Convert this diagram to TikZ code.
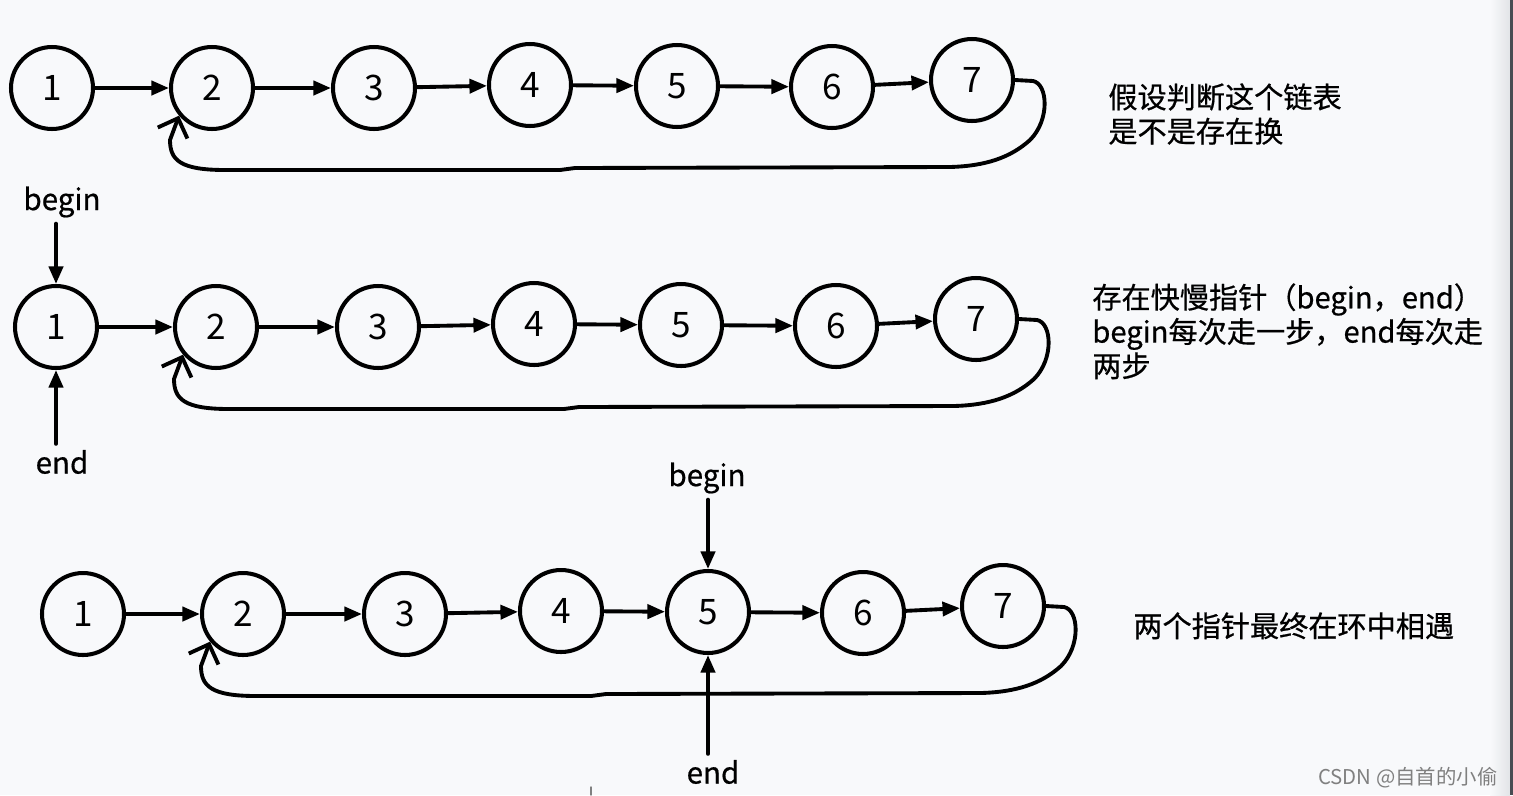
\documentclass[tikz,border=0pt]{standalone}
\usepackage{fontspec}
\setmainfont{Noto Sans CJK SC}
\newfontfamily\notefont{Noto Sans CJK SC}[FakeBold=0.6]
\usetikzlibrary{arrows.meta}
\definecolor{bgcol}{RGB}{248,249,251}
\definecolor{edgecol}{RGB}{226,228,231}
\definecolor{rimcol}{RGB}{72,76,82}
\begin{document}
\begin{tikzpicture}[line join=round,line cap=round,x=0.02cm,y=-0.02cm,
	>={Triangle[length=10pt,width=8pt]},
	elem/.style={circle,draw,line width=2.3pt,minimum size=1.64cm,inner sep=0pt,font=\fontsize{20}{20}\selectfont},
	link/.style={->,line width=2.2pt},
	back/.style={-{Straight Barb[length=9pt,width=18pt]},line width=2.2pt},
	lbl/.style={font=\notefont\fontsize{16.8}{19}\selectfont},
	note/.style={anchor=north west,align=left,inner sep=0pt,font=\notefont\fontsize{16.6}{19.5}\selectfont}]
	\fill[bgcol] (0,0) rectangle (1513,795);
	\shade[left color=bgcol,right color=edgecol] (1490,0) rectangle (1510,795);
	\fill[rimcol] (1510,0) rectangle (1513,795);
	\useasboundingbox (0,0) rectangle (1513,795);
	% three copies of the list
	\foreach \r/\dx/\dy in {a/0/0,b/4/239,c/31/526}{
		\begin{scope}[shift={(\dx,\dy)}]
			\foreach \n/\x/\y in {1/52/88,2/212/88,3/374/88,4/530/85,5/677/86,6/832/87,7/972/80}{
				\node[elem] (\r\n) at (\x,\y) {\n};
			};
			\foreach \i/\j in {1/2,2/3,3/4,4/5,5/6,6/7}{
				\draw[link] (\r\i)--(\r\j);
			};
			\draw[back] (\r7.east)--(1033,81) .. controls (1048,84) and (1050,120) .. (1030,140)
				.. controls (1010,158) and (985,166) .. (950,167)--(575,168)--(560,170)--(225,170)
				.. controls (180,170) and (170,160) .. (170,140)--(\r2.220);
		\end{scope}
	};
	% pointers
	\node[lbl] (bgn1) at (62,202) {begin};
	\node[lbl] (end1) at (62,462) {end};
	\node[lbl] (bgn2) at (707,478) {begin};
	\node[lbl] (end2) at (713,772) {end};
	\draw[link] (bgn1.south -| b1)--(b1);
	\draw[link] (end1.north -| b1)--(b1);
	\draw[link] (bgn2.south -| c5)--(c5);
	\draw[link] (end2.north -| c5)--(c5);
	% notes
	\node[note] (txt1) at (1108,83) {假设判断这个链表\\是不是存在换};
	\node[note] (txt2) at (1092,283) {存在快慢指针（begin，end）\\begin每次走一步，end每次走\\两步};
	\node[note] (txt3) at (1133,612) {两个指针最终在环中相遇};
	\node[anchor=north west,inner sep=0pt,text=gray,font=\fontsize{11.6}{12}\selectfont] (mark) at (1318,767) {CSDN @自首的小偷};
	\draw[gray,line width=0.8pt] (591,787)--(591,795);
\end{tikzpicture}
\end{document}
